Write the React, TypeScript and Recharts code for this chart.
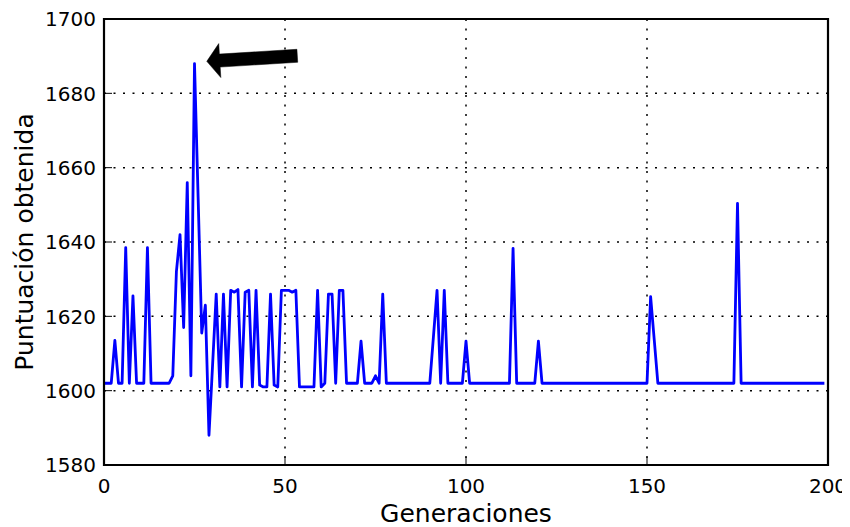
import React from 'react';
import { LineChart, Line, XAxis, YAxis, CartesianGrid, ReferenceLine } from 'recharts';

// Puntuación obtenida per generation (generation = index)
const scores: number[] = [
  // 0-18
  1602, 1602, 1602, 1613.5, 1602, 1602, 1638.5, 1602, 1625.5, 1602,
  1602, 1602, 1638.5, 1602, 1602, 1602, 1602, 1602, 1602,
  // 19-53
  1604, 1632, 1642, 1617, 1656, 1604, 1688, 1652, 1615.5, 1623,
  1588, 1607, 1626, 1601, 1626, 1601, 1627, 1626.5, 1627.2, 1601,
  1626.5, 1627, 1601, 1627, 1601.5, 1601, 1601, 1626, 1601.5, 1601,
  1627, 1627, 1627, 1626.5, 1627,
  // 54-77
  1601, 1601, 1601, 1601, 1601, 1627, 1601, 1602, 1626, 1626,
  1602, 1627, 1627, 1602, 1602, 1602, 1602, 1613.3, 1602, 1602,
  1602, 1604, 1602, 1626,
  // 78-99
  1602, 1602, 1602, 1602, 1602, 1602, 1602, 1602, 1602, 1602,
  1602, 1602, 1602, 1614.5, 1627, 1602, 1627, 1602, 1602, 1602,
  1602, 1602,
  // 100-120
  1613.3, 1602, 1602, 1602, 1602, 1602, 1602, 1602, 1602, 1602,
  1602, 1602, 1602, 1638.3, 1602, 1602, 1602, 1602, 1602, 1602,
  1613.3,
  // 121-150
  1602, 1602, 1602, 1602, 1602, 1602, 1602, 1602, 1602, 1602,
  1602, 1602, 1602, 1602, 1602, 1602, 1602, 1602, 1602, 1602,
  1602, 1602, 1602, 1602, 1602, 1602, 1602, 1602, 1602, 1602,
  // 151-175
  1625.3, 1613.7, 1602, 1602, 1602, 1602, 1602, 1602, 1602, 1602,
  1602, 1602, 1602, 1602, 1602, 1602, 1602, 1602, 1602, 1602,
  1602, 1602, 1602, 1602, 1650.4,
  // 176-199
  1602, 1602, 1602, 1602, 1602, 1602, 1602, 1602, 1602, 1602,
  1602, 1602, 1602, 1602, 1602, 1602, 1602, 1602, 1602, 1602,
  1602, 1602, 1602, 1602,
];

const xTicks = [0, 50, 100, 150, 200];
const yTicks = [1580, 1600, 1620, 1640, 1660, 1680, 1700];
const xDomain: [number, number] = [0, 200];
const yDomain: [number, number] = [1580, 1700];
const arrowTail = { x: 53.4, y: 1690.1 };
const arrowTip = { x: 28.4, y: 1688.6 };

const data = scores.map((s, i) => ({ gen: i, score: s }));

const FONT = 'DejaVu Sans';
const TICK_LEN = 8;
const X_LABEL_GAP = 13;
const Y_LABEL_GAP = 8;

const ArrowShape = (props: any) => {
  const { x1, y1, x2, y2 } = props;
  const dx = x2 - x1;
  const dy = y2 - y1;
  const L = Math.sqrt(dx * dx + dy * dy) || 1;
  const ux = dx / L;
  const uy = dy / L;
  const nx = -uy;
  const ny = ux;
  const hl = 13;
  const hw = 6.5;
  const hh = 17;
  const bx = x2 - ux * hl;
  const by = y2 - uy * hl;
  const pts = [
    [x1 + nx * hw, y1 + ny * hw],
    [bx + nx * hw, by + ny * hw],
    [bx + nx * hh, by + ny * hh],
    [x2, y2],
    [bx - nx * hh, by - ny * hh],
    [bx - nx * hw, by - ny * hw],
    [x1 - nx * hw, y1 - ny * hw],
  ]
    .map((p) => p.join(','))
    .join(' ');
  return <polygon points={pts} fill="#000" stroke="#000" strokeWidth={0.5} />;
};

const FrameShape = (props: any) => {
  const { x1, y1, x2, y2 } = props;
  const ext = 1;
  const horiz = Math.abs(y2 - y1) < Math.abs(x2 - x1);
  const ax = horiz ? Math.min(x1, x2) - ext : x1;
  const bx = horiz ? Math.max(x1, x2) + ext : x2;
  const ay = horiz ? y1 : Math.min(y1, y2) - ext;
  const by = horiz ? y2 : Math.max(y1, y2) + ext;
  return <line x1={ax} y1={ay} x2={bx} y2={by} stroke="#000" strokeWidth={2.2} />;
};

const BottomTick = (props: any) => {
  const { x, y, payload } = props;
  const axisY = y - X_LABEL_GAP;
  return (
    <g>
      <line x1={x} y1={axisY} x2={x} y2={axisY - TICK_LEN} stroke="#000" strokeWidth={1} />
      <text x={x} y={y} dy="0.76em" textAnchor="middle" fontSize={20} fontFamily={FONT} fill="#000">
        {payload.value}
      </text>
    </g>
  );
};

const LeftTick = (props: any) => {
  const { x, y, payload } = props;
  const axisX = x + Y_LABEL_GAP;
  return (
    <g>
      <line x1={axisX} y1={y} x2={axisX + TICK_LEN} y2={y} stroke="#000" strokeWidth={1} />
      <text x={x} y={y} dy="0.36em" textAnchor="end" fontSize={20} fontFamily={FONT} fill="#000">
        {payload.value}
      </text>
    </g>
  );
};

const TopTick = (props: any) => {
  const { x, y } = props;
  return <line x1={x} y1={y} x2={x} y2={y + TICK_LEN} stroke="#000" strokeWidth={1} />;
};

const RightTick = (props: any) => {
  const { x, y } = props;
  return <line x1={x} y1={y} x2={x - TICK_LEN} y2={y} stroke="#000" strokeWidth={1} />;
};

export default function App() {
  return (
    <LineChart
      width={842}
      height={519}
      data={data}
      margin={{ top: 11, right: 22, left: 0, bottom: 0 }}
    >
      <CartesianGrid stroke="#000" strokeWidth={1.5} strokeDasharray="2 7.5" />
      <XAxis
        dataKey="gen"
        type="number"
        domain={xDomain}
        ticks={xTicks}
        interval={0}
        height={62}
        tickSize={0}
        tickMargin={X_LABEL_GAP}
        axisLine={false}
        tickLine={false}
        tick={BottomTick}
        label={{
          content: (p: any) => {
            const vb = p.viewBox || {};
            return (
              <text
                x={vb.x + vb.width / 2}
                y={vb.y + 57}
                textAnchor="middle"
                fontSize={25}
                fontFamily={FONT}
                fill="#000"
              >
                Generaciones
              </text>
            );
          },
        }}
      />
      <XAxis
        xAxisId="top"
        orientation="top"
        type="number"
        domain={xDomain}
        ticks={xTicks}
        interval={0}
        height={0}
        tickSize={0}
        tickMargin={0}
        axisLine={false}
        tickLine={false}
        tick={TopTick}
      />
      <YAxis
        type="number"
        domain={yDomain}
        ticks={yTicks}
        interval={0}
        width={96}
        tickSize={0}
        tickMargin={Y_LABEL_GAP}
        axisLine={false}
        tickLine={false}
        tick={LeftTick}
        label={{
          content: (p: any) => {
            const vb = p.viewBox || {};
            const cx = 25.3;
            const cy = vb.y + vb.height / 2;
            return (
              <text
                x={cx}
                y={cy}
                transform={`rotate(-90, ${cx}, ${cy})`}
                textAnchor="middle"
                fontSize={25}
                fontFamily={FONT}
                fill="#000"
              >
                Puntuación obtenida
              </text>
            );
          },
        }}
      />
      <YAxis
        yAxisId="right"
        orientation="right"
        type="number"
        domain={yDomain}
        ticks={yTicks}
        interval={0}
        width={0}
        tickSize={0}
        tickMargin={0}
        axisLine={false}
        tickLine={false}
        tick={RightTick}
      />
      <Line
        type="linear"
        dataKey="score"
        stroke="#0000ff"
        strokeWidth={2.8}
        strokeLinejoin="round"
        dot={false}
        activeDot={false}
        isAnimationActive={false}
      />
      <ReferenceLine
        segment={[{ x: xDomain[0], y: yDomain[0] }, { x: xDomain[0], y: yDomain[1] }]}
        shape={FrameShape}
        ifOverflow="visible"
      />
      <ReferenceLine
        segment={[{ x: xDomain[1], y: yDomain[0] }, { x: xDomain[1], y: yDomain[1] }]}
        shape={FrameShape}
        ifOverflow="visible"
      />
      <ReferenceLine
        segment={[{ x: xDomain[0], y: yDomain[0] }, { x: xDomain[1], y: yDomain[0] }]}
        shape={FrameShape}
        ifOverflow="visible"
      />
      <ReferenceLine
        segment={[{ x: xDomain[0], y: yDomain[1] }, { x: xDomain[1], y: yDomain[1] }]}
        shape={FrameShape}
        ifOverflow="visible"
      />
      <ReferenceLine
        segment={[arrowTail, arrowTip]}
        shape={ArrowShape}
        ifOverflow="visible"
      />
    </LineChart>
  );
}
